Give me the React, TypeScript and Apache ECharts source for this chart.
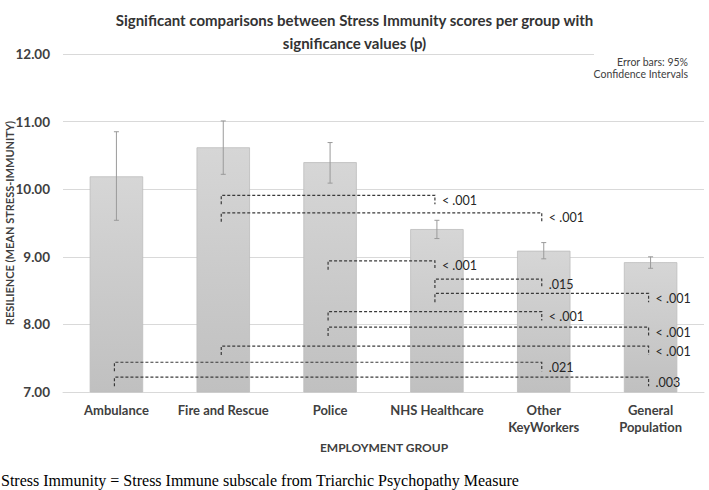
import React, { useEffect, useRef } from "react";
import * as echarts from "echarts";

const categories = ["Ambulance", "Fire and Rescue", "Police", "NHS Healthcare", "Other\nKeyWorkers", "General\nPopulation"];
const means = [10.19, 10.62, 10.4, 9.41, 9.09, 8.92];
const ciLow = [9.54, 10.22, 10.09, 9.27, 8.97, 8.83];
const ciHigh = [10.85, 11.01, 10.69, 9.54, 9.21, 9.0];

const yMin = 7;
const yMax = 12;
const yStep = 1;

const compFrom = [1, 1, 2, 3, 3, 2, 2, 1, 0, 0];
const compTo = [3, 4, 3, 4, 5, 4, 5, 5, 4, 5];
const compLevel = [9.91, 9.65, 8.94, 8.67, 8.46, 8.19, 7.96, 7.68, 7.44, 7.22];
const compP = ["< .001", "< .001", "< .001", ".015", "< .001", "< .001", "< .001", "< .001", ".021", ".003"];

const titleText = "Significant comparisons between Stress Immunity scores per group with\nsignificance values (p)";
const yName = "RESILIENCE (MEAN STRESS-IMMUNITY)";
const xName = "EMPLOYMENT GROUP";
const noteText = "Error bars: 95%\nConfidence Intervals";
const footText = "Stress Immunity = Stress Immune subscale from Triarchic Psychopathy Measure";

export default function App() {
  const ref = useRef<HTMLDivElement>(null);
  useEffect(() => {
    if (!ref.current) return;
    const chart = echarts.init(ref.current, undefined, { renderer: "svg" });
    const font = "Lato";
    chart.setOption({
      animation: false,
      backgroundColor: "#ffffff",
      title: {
        text: titleText,
        left: "center",
        top: 3,
        textStyle: { fontFamily: font, fontSize: 15, fontWeight: "bold", color: "#333333", lineHeight: 23 },
      },
      grid: { left: 63, right: 5, top: 54, bottom: 98 },
      xAxis: {
        type: "category",
        data: categories,
        axisLine: { show: true, lineStyle: { color: "#d9d9d9", width: 1 } },
        axisTick: { show: false },
        axisLabel: {
          margin: 9,
          fontFamily: font,
          fontSize: 13,
          fontWeight: "bold",
          color: "#404040",
          lineHeight: 17,
          interval: 0,
        },
      },
      yAxis: {
        type: "value",
        min: yMin,
        max: yMax,
        interval: yStep,
        axisLine: { show: false },
        axisTick: { show: false },
        splitLine: { lineStyle: { color: "#d9d9d9", width: 1 } },
        axisLabel: {
          margin: 13,
          fontFamily: font,
          fontSize: 13.5,
          fontWeight: "bold",
          color: "#404040",
          formatter: (v: number) => v.toFixed(2),
        },
      },
      series: [
        {
          type: "bar",
          data: means,
          barWidth: "50%",
          itemStyle: {
            color: new echarts.graphic.LinearGradient(0, 0, 0, 1, [
              { offset: 0, color: "#d6d6d6" },
              { offset: 1, color: "#c0c0c0" },
            ]),
            borderColor: "#bcbcbc",
            borderWidth: 0.8,
          },
          z: 2,
        },
        {
          type: "custom",
          z: 3,
          encode: { x: 0, y: [1, 2] },
          data: means.map((_, i) => [i, ciLow[i], ciHigh[i]]),
          renderItem: (params: any, api: any) => {
            const lo = api.coord([api.value(0), api.value(1)]);
            const hi = api.coord([api.value(0), api.value(2)]);
            const x = lo[0];
            const style = { stroke: "#9a9a9a", lineWidth: 1, fill: null };
            return {
              type: "group",
              children: [
                { type: "line", shape: { x1: x, y1: lo[1], x2: x, y2: hi[1] }, style },
                { type: "line", shape: { x1: x - 2.5, y1: lo[1], x2: x + 2.5, y2: lo[1] }, style },
                { type: "line", shape: { x1: x - 2.5, y1: hi[1], x2: x + 2.5, y2: hi[1] }, style },
              ],
            };
          },
        },
        {
          type: "custom",
          z: 4,
          clip: false,
          encode: { x: 0, y: 2 },
          data: compFrom.map((f, i) => [f, compTo[i], compLevel[i]]),
          renderItem: (params: any, api: any) => {
            const p1 = api.coord([api.value(0), api.value(2)]);
            const p2 = api.coord([api.value(1), api.value(2)]);
            const x1 = p1[0] - 2;
            const x2 = p2[0] - 2;
            const y = p1[1];
            return {
              type: "group",
              children: [
                {
                  type: "polyline",
                  shape: { points: [[x1, y + 9], [x1, y], [x2, y], [x2, y + 9]] },
                  style: { stroke: "#3a3a3a", lineWidth: 1.2, lineDash: [3, 2], fill: null },
                },
                {
                  type: "text",
                  x: x2 + 7,
                  y: y + 5,
                  style: {
                    text: compP[params.dataIndex],
                    fill: "#262626",
                    font: `12.5px ${font}`,
                    align: "left",
                    verticalAlign: "middle",
                  },
                },
              ],
            };
          },
        },
      ],
      graphic: [
        { type: "rect", z: 10, shape: { x: 594, y: 48, width: 115, height: 12 }, style: { fill: "#ffffff" } },
        {
          type: "text",
          z: 11,
          x: 688,
          y: 56,
          style: { text: noteText, fill: "#404040", font: `10.5px ${font}`, align: "right", verticalAlign: "top", lineHeight: 12 },
        },
        {
          type: "text",
          x: 9,
          y: 223,
          rotation: Math.PI / 2,
          style: { text: yName, fill: "#404040", font: `bold 11px ${font}`, align: "center", verticalAlign: "middle" },
        },
        {
          type: "text",
          x: 384,
          y: 447,
          style: { text: xName, fill: "#404040", font: `bold 12px ${font}`, align: "center", verticalAlign: "middle" },
        },
        {
          type: "text",
          x: 1,
          y: 480,
          style: { text: footText, fill: "#000000", font: `16px 'Liberation Serif'`, align: "left", verticalAlign: "middle" },
        },
      ],
    });
    return () => chart.dispose();
  }, []);
  return <div ref={ref} style={{ width: 709, height: 490, position: "absolute", left: 0, top: 0 }} />;
}
